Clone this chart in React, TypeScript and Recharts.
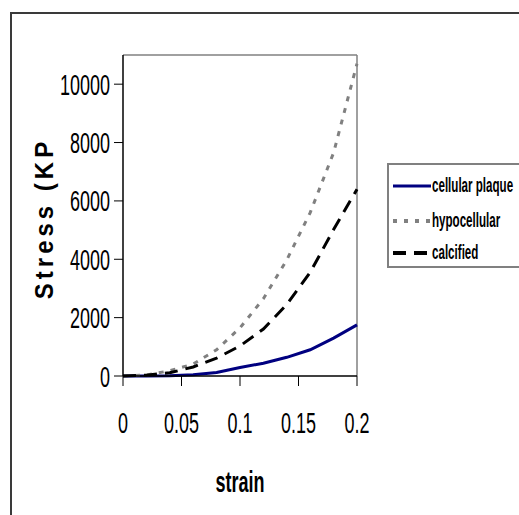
import React from "react";
import { LineChart, Line, XAxis, YAxis, ReferenceLine, Label } from "recharts";

const strain = [0, 0.02, 0.04, 0.06, 0.08, 0.1, 0.12, 0.14, 0.16, 0.18, 0.2];
const cellularPlaque = [0, 0, 10, 40, 120, 290, 440, 640, 900, 1300, 1750];
const hypocellular = [0, 30, 180, 410, 900, 1650, 2650, 3980, 5600, 7650, 10700];
const calcified = [0, 30, 110, 310, 610, 1030, 1610, 2450, 3550, 5020, 6400];

const xTicks = [0, 0.05, 0.1, 0.15, 0.2];
const yTicks = [0, 2000, 4000, 6000, 8000, 10000];

const seriesNames = ["cellular plaque", "hypocellular", "calcified"];
const seriesKeys = ["cellular", "hypo", "calc"];

const data = strain.map((s, i) => ({
  strain: s,
  cellular: cellularPlaque[i],
  hypo: hypocellular[i],
  calc: calcified[i],
}));

const FONT = "'Liberation Sans', Arial, sans-serif";
const SQ = 0.6;

const XTick = (props: any) => {
  const { x, payload } = props;
  return (
    <text
      transform={`translate(${x},433) scale(${SQ},1)`}
      textAnchor="middle"
      fontFamily={FONT}
      fontSize={30}
      fill="#000"
    >
      {String(payload.value)}
    </text>
  );
};

const YTick = (props: any) => {
  const { y, payload } = props;
  return (
    <text
      transform={`translate(110,${y + 10.5}) scale(${SQ},1)`}
      textAnchor="end"
      fontFamily={FONT}
      fontSize={30}
      fill="#000"
    >
      {String(payload.value)}
    </text>
  );
};

const sampleStyle: Record<string, any> = {
  cellular: { stroke: "#000080", strokeWidth: 3 },
  hypo: { stroke: "#808080", strokeWidth: 4, strokeDasharray: "4 7" },
  calc: { stroke: "#000", strokeWidth: 4, strokeDasharray: "13 8" },
};

const LegendBox = () => {
  const rowsY = [21, 56, 88];
  return (
    <div
      style={{
        position: "absolute",
        left: 387,
        top: 163,
        width: 200,
        height: 105,
        border: "2px solid #808080",
        boxSizing: "border-box",
        background: "#fff",
      }}
    >
      <svg width={200} height={101} style={{ display: "block" }}>
        {seriesKeys.map((k, i) => (
          <g key={k}>
            <line x1={4} x2={42} y1={rowsY[i]} y2={rowsY[i]} {...sampleStyle[k]} />
            <text
              transform={`translate(43,${rowsY[i] + 6}) scale(0.58,1)`}
              fontFamily={FONT}
              fontWeight="bold"
              fontSize={20}
              fill="#000"
            >
              {seriesNames[i]}
            </text>
          </g>
        ))}
      </svg>
    </div>
  );
};

export default function App() {
  return (
    <div
      style={{
        position: "absolute",
        left: 0,
        top: 0,
        width: 519,
        height: 515,
        overflow: "hidden",
        background: "#fff",
      }}
    >
      <div
        style={{
          position: "absolute",
          left: 10,
          top: 12,
          width: 700,
          height: 700,
          border: "2px solid #3a3a3a",
        }}
      />
      <div style={{ position: "absolute", left: 0, top: 0 }}>
        <LineChart
          width={519}
          height={515}
          data={data}
          margin={{ top: 55, right: 162, bottom: 59, left: 23 }}
        >
          <ReferenceLine y={11000} stroke="#808080" strokeWidth={1.5} ifOverflow="visible" />
          <ReferenceLine x={0.2} stroke="#808080" strokeWidth={1.5} ifOverflow="visible" />
          <XAxis
            dataKey="strain"
            type="number"
            domain={[0, 0.2]}
            ticks={xTicks}
            height={80}
            tickSize={10}
            axisLine={{ stroke: "#000", strokeWidth: 1.5 }}
            tickLine={{ stroke: "#000", strokeWidth: 1 }}
            tick={<XTick />}
            interval={0}
          >
            <Label
              content={(p: any) => {
                const vb = p.viewBox || { x: 123, width: 234 };
                return (
                  <text
                    transform={`translate(${vb.x + vb.width / 2},492) scale(${SQ},1)`}
                    textAnchor="middle"
                    fontFamily={FONT}
                    fontWeight="bold"
                    fontSize={30}
                    fill="#000"
                  >
                    strain
                  </text>
                );
              }}
            />
          </XAxis>
          <YAxis
            type="number"
            domain={[0, 11000]}
            ticks={yTicks}
            width={100}
            tickSize={9}
            axisLine={{ stroke: "#000", strokeWidth: 1.5 }}
            tickLine={{ stroke: "#000", strokeWidth: 1 }}
            tick={<YTick />}
            interval={0}
          >
            <Label
              content={(p: any) => {
                const vb = p.viewBox || { y: 55, height: 321 };
                return (
                  <text
                    transform={`translate(53,${vb.y + vb.height / 2 + 3}) rotate(-90) scale(1,1.1)`}
                    textAnchor="middle"
                    fontFamily={FONT}
                    fontWeight="bold"
                    fontSize={24}
                    letterSpacing={4}
                    fill="#000"
                  >
                    Stress (KP
                  </text>
                );
              }}
            />
          </YAxis>
          <Line
            type="linear"
            dataKey="cellular"
            name={seriesNames[0]}
            stroke="#000080"
            strokeWidth={3}
            dot={false}
            isAnimationActive={false}
          />
          <Line
            type="linear"
            dataKey="hypo"
            name={seriesNames[1]}
            stroke="#808080"
            strokeWidth={3}
            strokeDasharray="5 7"
            dot={false}
            isAnimationActive={false}
          />
          <Line
            type="linear"
            dataKey="calc"
            name={seriesNames[2]}
            stroke="#000"
            strokeWidth={3}
            strokeDasharray="13 8"
            dot={false}
            isAnimationActive={false}
          />
        </LineChart>
      </div>
      <LegendBox />
    </div>
  );
}
